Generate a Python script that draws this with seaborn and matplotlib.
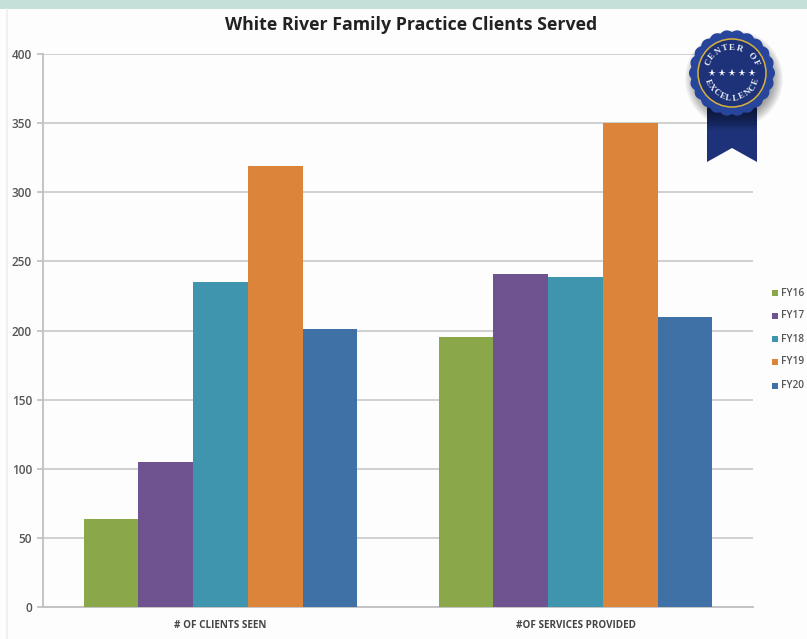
import numpy as np
import pandas as pd
import seaborn as sns
import matplotlib.pyplot as plt
from matplotlib.patches import Polygon, Circle, Rectangle
from matplotlib.lines import Line2D

categories = ["# OF CLIENTS SEEN", "#OF SERVICES PROVIDED"]
years = ["FY16", "FY17", "FY18", "FY19", "FY20"]
clients_seen = [64, 105, 235, 319, 201]
services_provided = [195, 241, 239, 350, 210]
colors = ["#8aa84a", "#6f5390", "#3f95ad", "#dc853a", "#3f70a6"]
y_ticks = [0, 50, 100, 150, 200, 250, 300, 350, 400]

W, H = 807, 639

data = pd.DataFrame({
    "Category": [categories[0]] * 5 + [categories[1]] * 5,
    "Year": years * 2,
    "Value": clients_seen + services_provided,
})

sns.set_theme(style="white")
plt.rcParams['font.family'] = ['Open Sans', 'DejaVu Sans']

fig = plt.figure(figsize=(W / 100, H / 100), dpi=100, facecolor="#fdfdfd")
ax = fig.add_axes([43 / W, 1 - 607 / H, 710 / W, 553 / H], facecolor="#fdfdfd")

sns.barplot(data=data, x="Category", y="Value", hue="Year", order=categories,
            hue_order=years, palette=colors, width=0.77, gap=0, saturation=1,
            legend=False, ax=ax, zorder=3, linewidth=0, edgecolor="none")

ax.set_ylim(0, 400)
ax.set_yticks(y_ticks)
ax.set_xlabel("")
ax.set_ylabel("")
ax.grid(axis="y", color="#d0d0d0", linewidth=1.4, zorder=0)
ax.set_axisbelow(True)
for side in ["top", "right"]:
    ax.spines[side].set_visible(False)
ax.spines["left"].set_color("#c0c0c0")
ax.spines["left"].set_linewidth(1.3)
ax.spines["bottom"].set_color("#c0c0c0")
ax.spines["bottom"].set_linewidth(1.3)
ax.tick_params(axis="y", left=True, length=4, color="#c0c0c0", labelsize=8.5,
               labelcolor="#555555", pad=4)
ax.tick_params(axis="x", bottom=False, labelsize=7.1, labelcolor="#444444", pad=11)
for label in ax.get_xticklabels():
    label.set_fontweight("bold")
    label.set_y(0.02)
for label in ax.get_yticklabels():
    label.set_fontweight("semibold")

# overlay in pixel coordinates for the page furniture, legend and badge
over = fig.add_axes([0, 0, 1, 1], facecolor="none")
over.set_xlim(0, W)
over.set_ylim(H, 0)
over.axis("off")

over.add_patch(Rectangle((0, 0), W, 9, color="#c4e0d8", lw=0))
over.add_line(Line2D([7, 7], [9, 639], color="#eeeeee", lw=1.2))
over.text(411, 25, "White River Family Practice Clients Served", ha="center",
          va="center", fontsize=12.8, fontweight="bold", color="#222222")

# legend
legend_y = [293, 316, 339, 362, 386]
for yr, col, ly in zip(years, colors, legend_y):
    over.add_patch(Rectangle((772, ly - 3), 6, 6, color=col, lw=0))
    over.text(781, ly, yr, ha="left", va="center", fontsize=7.3,
              fontweight="semibold", color="#555555")

# badge
cx, cy = 732, 73
navy = "#1d3278"
for grow in range(0, 14):
    over.add_patch(Circle((cx + 2, cy + 6), 36 + grow, color="#000000", alpha=0.035, lw=0, zorder=5))
over.add_patch(Polygon([(707, 100), (757, 100), (757, 162), (732, 148), (707, 162)],
                       closed=True, color=navy, lw=0, zorder=6))
for i in range(12):
    over.add_patch(Rectangle((707, 108), 50, 3 + i * 1.7, color="#000000", alpha=0.05, lw=0, zorder=6))
theta = np.linspace(0, 2 * np.pi, 720)
radius = 41 + 2 * np.abs(np.cos(theta * 11))
over.add_patch(Polygon(np.column_stack([cx + radius * np.cos(theta), cy + radius * np.sin(theta)]),
                       closed=True, color="#27459b", lw=0, zorder=7))
over.add_patch(Circle((cx, cy), 34, facecolor=navy, edgecolor="#d9b13b", lw=1.1, zorder=8))


def arc_text(text, start, end, rad, flip):
    # one rotated letter per angle, angles in degrees clockwise from the top
    for ch, a in zip(text, np.linspace(start, end, len(text))):
        r = np.radians(a)
        over.text(cx + rad * np.sin(r), cy - rad * np.cos(r), ch, ha="center", va="center",
                  fontsize=6.4, family="Liberation Serif", fontweight="bold", color="#e8ecf5",
                  rotation=(-a + 180 if flip else -a), zorder=9)


arc_text("CENTER OF", -66, 66, 25.5, False)
arc_text("EXCELLENCE", 250, 110, 25.5, True)
for sx in [-20, -10, 0, 10, 20]:
    over.plot(cx + sx, cy, marker="*", color="white", markersize=5.5, mew=0, zorder=9)

fig.savefig("out.png", dpi=100, facecolor=fig.get_facecolor())
